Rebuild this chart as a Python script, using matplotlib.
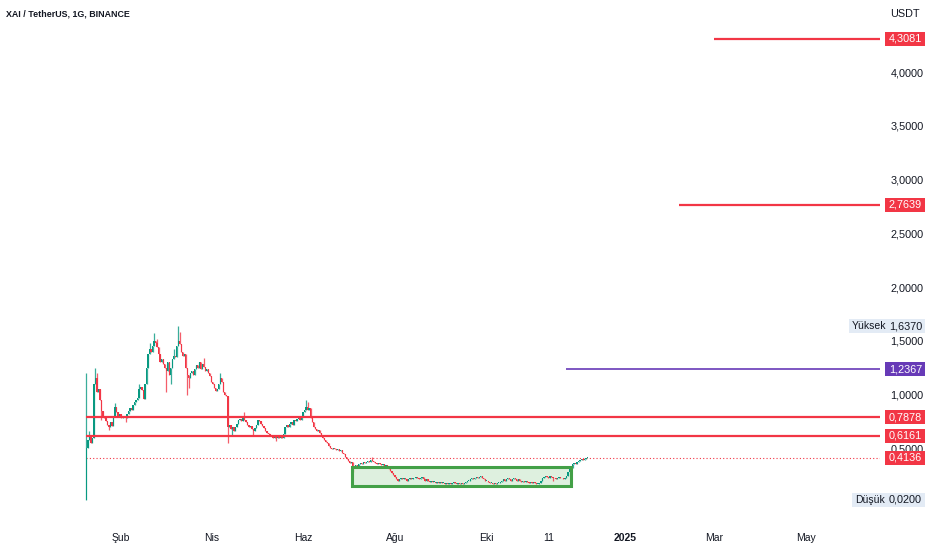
import matplotlib
matplotlib.use('Agg')
import matplotlib.pyplot as plt
from matplotlib.transforms import blended_transform_factory
from matplotlib.patches import Rectangle
from matplotlib import font_manager

# ---------------- data ----------------
title = "XAI / TetherUS, 1G, BINANCE"
start_day = -23          # first candle: 9 Jan 2024 (days relative to 1 Feb 2024)
first_open = 0.02

closes = [
    0.50, 0.58, 0.62, 0.55, 0.60,
    1.10, 1.15, 1.02, 1.05, 0.95,
    0.85, 0.80, 0.78,
    0.75, 0.72, 0.70, 0.74, 0.71,
    0.80, 0.88, 0.84,
    0.80, 0.82, 0.78,
    0.79, 0.80, 0.78, 0.82,
    0.85, 0.87, 0.86, 0.90,
    0.93, 0.95, 0.97,
    1.05, 1.07, 1.04,
    0.96,
    1.10, 1.25, 1.38, 1.42, 1.40,
    1.45, 1.50, 1.48, 1.44,
    1.38, 1.30, 1.33, 1.28,
    1.25, 1.22, 1.30, 1.18, 1.25,
    1.33, 1.36, 1.35,
    1.45, 1.50, 1.47,
    1.40, 1.36, 1.38,
    1.25, 1.18, 1.15,
    1.20, 1.22, 1.18, 1.24,
    1.27, 1.25, 1.30,
    1.24, 1.28, 1.26, 1.22, 1.24, 1.20, 1.17,
    1.12, 1.10, 1.06, 1.03, 1.05,
    1.10, 1.15, 1.12,
    1.02, 1.00, 0.99,
    0.70,
    0.72, 0.68, 0.70, 0.66, 0.70, 0.73,
    0.76, 0.77, 0.75, 0.78, 0.76, 0.74,
    0.72, 0.70, 0.71, 0.68, 0.66, 0.69, 0.72,
    0.76, 0.75, 0.73, 0.71, 0.69,
    0.66, 0.64, 0.63, 0.62, 0.61, 0.60, 0.62, 0.60, 0.61,
    0.60, 0.62, 0.60, 0.63,
    0.70, 0.72, 0.70, 0.73, 0.74, 0.72,
    0.76, 0.75, 0.77, 0.78, 0.76, 0.79,
    0.84, 0.86, 0.88, 0.86, 0.87,
    0.78, 0.74,
    0.70, 0.68, 0.66, 0.67, 0.64,
    0.62, 0.60, 0.58, 0.56, 0.55,
    0.52, 0.50, 0.49, 0.50, 0.49, 0.48, 0.49,
    0.47, 0.48, 0.46, 0.45,
    0.42, 0.40, 0.38, 0.36, 0.37,
    0.33, 0.32, 0.34, 0.33,
    0.35, 0.36, 0.35, 0.37, 0.36, 0.37,
    0.38, 0.37, 0.39, 0.38, 0.37,
    0.36, 0.35, 0.36, 0.35, 0.34, 0.35, 0.33, 0.34, 0.32, 0.31,
    0.29, 0.27, 0.25, 0.23, 0.21, 0.20, 0.21,
    0.22, 0.21, 0.22, 0.21, 0.20, 0.21, 0.22, 0.21, 0.22,
    0.22, 0.23, 0.22, 0.21, 0.22, 0.23, 0.21, 0.20, 0.21, 0.20, 0.19, 0.20, 0.19,
    0.19, 0.18, 0.19, 0.18, 0.19, 0.18, 0.18,
    0.17, 0.18, 0.17, 0.18, 0.17, 0.18, 0.19, 0.18, 0.17, 0.18, 0.17, 0.18, 0.17, 0.18, 0.19, 0.20,
    0.20, 0.21, 0.22, 0.21, 0.22, 0.23, 0.22, 0.23, 0.24, 0.22,
    0.21, 0.20, 0.20, 0.19, 0.18,
    0.18, 0.17, 0.18, 0.17, 0.18, 0.18, 0.19,
    0.20, 0.21, 0.20, 0.21, 0.22, 0.21, 0.20, 0.21, 0.22, 0.21, 0.20, 0.21, 0.20,
    0.19, 0.20, 0.19, 0.20, 0.19, 0.18, 0.19, 0.18, 0.19,
    0.18, 0.17, 0.17, 0.18,
    0.20, 0.22, 0.23, 0.24, 0.23, 0.22, 0.24, 0.23, 0.22,
    0.22, 0.21, 0.22, 0.23, 0.22, 0.22, 0.21, 0.22, 0.24,
    0.28, 0.31, 0.32,
    0.35, 0.36, 0.35, 0.37, 0.38,
    0.39, 0.40, 0.39, 0.40, 0.41, 0.4136,
]

high_wicks = {0: 1.20, 2: 0.66, 6: 1.25, 7: 1.20, 19: 0.92, 35: 1.10, 42: 1.48,
              45: 1.57, 47: 1.52, 58: 1.42, 61: 1.637, 62: 1.58, 78: 1.34,
              89: 1.20, 105: 0.84, 146: 0.95, 147: 0.93, 190: 0.42}
low_wicks = {0: 0.02, 1: 0.50, 10: 0.76, 15: 0.67, 26: 0.74, 53: 1.02, 56: 1.10,
             67: 1.00, 68: 1.06, 94: 0.55, 97: 0.62, 111: 0.62, 126: 0.57,
             177: 0.28, 310: 0.20}

level_prices = [4.3081, 2.7639, 1.2367, 0.7878, 0.6161]
level_labels = ["4,3081", "2,7639", "1,2367", "0,7878", "0,6161"]
level_starts = [394, 371, 296, -23, -23]
level_colors = ["#f23645", "#f23645", "#673ab7", "#f23645", "#f23645"]

last_price = 0.4136
last_label = "0,4136"
high_price, high_text = 1.637, "1,6370"
low_price, low_text = 0.02, "0,0200"

box_start, box_end = 153.5, 299
box_low, box_high = 0.152, 0.322

xtick_pos = [0, 60, 121, 182, 243, 284, 335, 394, 455]
xtick_labels = ["Şub", "Nis", "Haz", "Ağu", "Eki", "11", "2025", "Mar", "May"]
ytick_vals = [0.5, 1.0, 1.5, 2.0, 2.5, 3.0, 3.5, 4.0]
ytick_labels = ["0,5000", "1,0000", "1,5000", "2,0000", "2,5000", "3,0000", "3,5000", "4,0000"]

# ---------------- figure ----------------
W, H = 932, 550
fig = plt.figure(figsize=(W / 100, H / 100), dpi=100)
ax = fig.add_axes([0, 28 / H, 880 / W, 522 / H])
ax.set_xlim(-80.4, 504.3)
ax.set_ylim(-0.186, 4.67)
for s in ax.spines.values():
    s.set_visible(False)

UP, DOWN = "#089981", "#f23645"
txt_color = "#131722"
font = ["Liberation Sans", "DejaVu Sans"]

opens = [first_open] + closes[:-1]
xs = [start_day + i for i in range(len(closes))]
for i, (x, o, c) in enumerate(zip(xs, opens, closes)):
    col = UP if c >= o else DOWN
    hi = max(o, c, high_wicks.get(i, 0))
    lo = min(o, c, low_wicks.get(i, 99))
    ax.vlines(x, lo, hi, color=col, lw=0.9, alpha=0.8, zorder=3)
    ax.bar(x, max(abs(c - o), 0.006), bottom=min(o, c), width=0.85,
           color=col, edgecolor="none", zorder=3)

# green consolidation box
ax.add_patch(Rectangle((box_start, box_low), box_end - box_start, box_high - box_low,
                       facecolor="#4caf50", alpha=0.18, edgecolor="none", zorder=2))
ax.add_patch(Rectangle((box_start, box_low), box_end - box_start, box_high - box_low,
                       facecolor="none", edgecolor="#43a047", lw=2.2, zorder=4))

# level lines
xmax = ax.get_xlim()[1]
for p, st, colr in zip(level_prices, level_starts, level_colors):
    ax.hlines(p, st, xmax, color=colr, lw=1.6 if colr != "#673ab7" else 1.2, zorder=4)

# last price dotted line
ax.hlines(last_price, start_day, xmax, color="#f23645", lw=0.8,
          linestyles=(0, (1, 2)), zorder=2)

# ticks
ax.set_xticks(xtick_pos)
ax.set_xticklabels(xtick_labels, fontsize=7.5, color=txt_color, family=font)
for lab in ax.get_xticklabels():
    if lab.get_text() == "2025":
        lab.set_fontweight("bold")
ax.tick_params(axis="x", length=0, pad=8)
ax.yaxis.tick_right()
ax.set_yticks(ytick_vals)
ax.set_yticklabels(ytick_labels, fontsize=7.8, color=txt_color, family=font)
ax.tick_params(axis="y", length=0, pad=7.5)

# price-scale labels
tr = blended_transform_factory(fig.transFigure, ax.transData)
px = 1 / 107.5


def price_label(y, text, bg, fg, x0=885, x1=925, prefix=None):
    h = 14 * px
    ax.add_patch(Rectangle((x0 / W, y - h / 2), (x1 - x0) / W, h, transform=tr,
                           facecolor=bg, edgecolor="none", clip_on=False, zorder=6))
    ax.text(922 / W, y, text, transform=tr, ha="right", va="center", fontsize=7.8,
            color=fg, family=font, clip_on=False, zorder=7)
    if prefix:
        ax.text((x0 + 3) / W, y, prefix, transform=tr, ha="left", va="center",
                fontsize=7.5, color=txt_color, family=font, clip_on=False, zorder=7)


for p, lab, colr in zip(level_prices, level_labels, level_colors):
    price_label(p, lab, colr, "white")
price_label(last_price, last_label, "#f23645", "white")
price_label(high_price, high_text, "#e3ebf5", txt_color, x0=849, prefix="Yüksek")
price_label(low_price, low_text, "#e3ebf5", txt_color, x0=852, prefix="Düşük")

avail = {f.name for f in font_manager.fontManager.ttflist}
title_fam = [f for f in ["Liberation Sans Narrow", "DejaVu Sans Condensed"] if f in avail] \
    + ["Liberation Sans", "DejaVu Sans"]
fig.text(6 / W, 1 - 14 / H, title, ha="left", va="center",
         fontsize=7.3 if title_fam[0] != "Liberation Sans" else 6.4,
         fontweight="bold", color=txt_color, family=title_fam)
fig.text(905 / W, 1 - 14 / H, "USDT", ha="center", va="center", fontsize=7.8,
         color=txt_color, family=font)

fig.savefig("out.png", dpi=100, facecolor="white")
